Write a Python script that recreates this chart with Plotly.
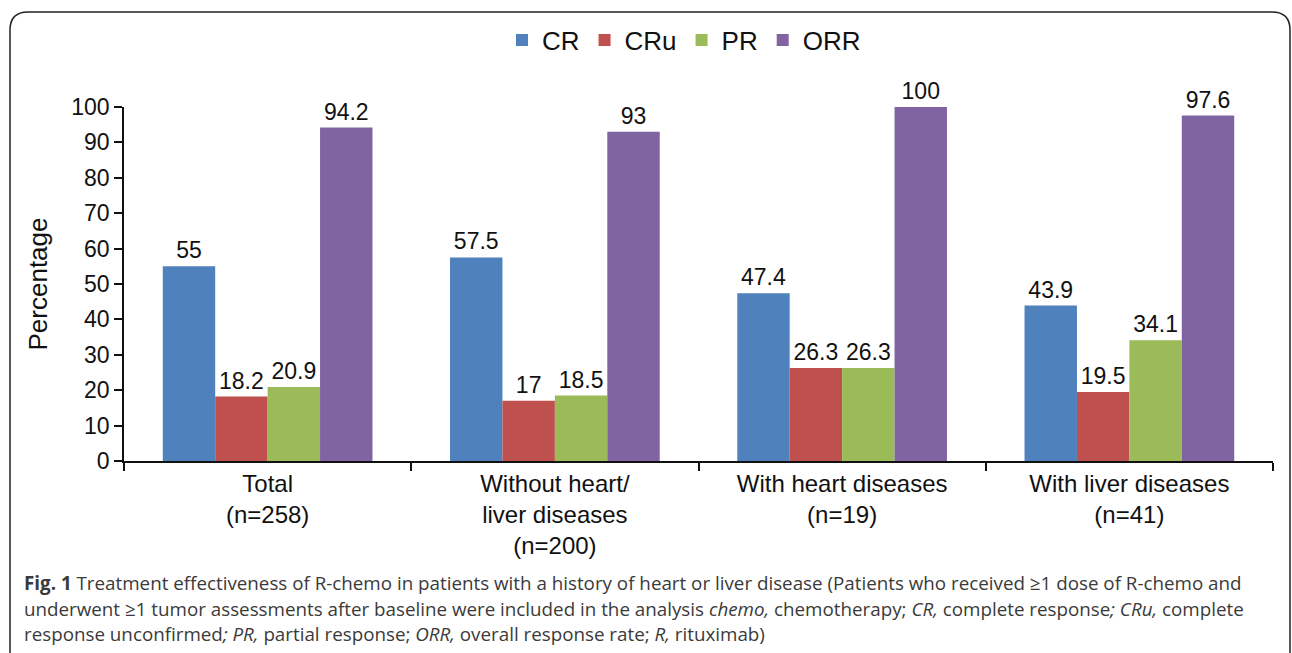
import plotly.graph_objects as go

categories = ["Total<br>(n=258)", "Without heart/<br>liver diseases<br>(n=200)",
              "With heart diseases<br>(n=19)", "With liver diseases<br>(n=41)"]
series_names = ["CR", "CRu", "PR", "ORR"]
cr = [55, 57.5, 47.4, 43.9]
cru = [18.2, 17, 26.3, 19.5]
pr = [20.9, 18.5, 26.3, 34.1]
orr = [94.2, 93, 100, 97.6]
colors = ["#4F81BD", "#C0504D", "#9BBB59", "#8064A2"]
y_ticks = list(range(0, 101, 10))

W, H = 1292, 653
L, R, T, B = 124, 19, 107, 192
pw, ph = W - L - R, H - T - B

def px(x):
    return (x - L) / pw

def py(y):
    return (H - B - y) / ph

font = "Liberation Sans, Arial"
fig = go.Figure()
for name, vals, col in zip(series_names, [cr, cru, pr, orr], colors):
    fig.add_trace(go.Bar(
        name=name, x=categories, y=vals, marker_color=col, marker_line_width=0,
        text=[f"{v:g}" for v in vals], textposition="outside", cliponaxis=False,
        textfont=dict(size=23, color="#111", family=font),
    ))

fig.update_layout(
    width=W, height=H, barmode="group", bargap=0.27, bargroupgap=0,
    margin=dict(l=L, r=R, t=T, b=B, pad=0),
    paper_bgcolor="white", plot_bgcolor="white",
    font=dict(family=font, color="#111"),
    legend=dict(orientation="h", x=px(684), xanchor="center", y=py(40), yanchor="middle",
                font=dict(size=26, family=font, color="#111"), itemwidth=30,
                traceorder="normal", tracegroupgap=0),
    xaxis=dict(showline=True, linecolor="#111", linewidth=1.5, ticks="outside",
               tickson="boundaries", ticklen=8, tickcolor="#111", tickwidth=1.5,
               tickfont=dict(size=24, family=font, color="#111"), showgrid=False),
    yaxis=dict(range=[0, 100], tickvals=y_ticks, showline=True, linecolor="#111", linewidth=1.5,
               ticks="outside", ticklen=8, tickcolor="#111", tickwidth=1.5,
               tickfont=dict(size=23, family=font, color="#111"), showgrid=False, zeroline=False,
               title=dict(text="Percentage", font=dict(size=26, family=font, color="#111"), standoff=16)),
)

# rounded border
x0, y0, x1, y1, r = 10, 12, 1290, 700, 18
path = (f"M {px(x0)},{py(y1)} L {px(x0)},{py(y0 + r)} "
        f"Q {px(x0)},{py(y0)} {px(x0 + r)},{py(y0)} "
        f"L {px(x1 - r)},{py(y0)} Q {px(x1)},{py(y0)} {px(x1)},{py(y0 + r)} "
        f"L {px(x1)},{py(y1)}")
fig.add_shape(type="path", path=path, xref="paper", yref="paper",
              line=dict(color="#222", width=1.5))

cap_font = dict(size=18.8, family="Open Sans", color="#3a3a3a")
lines = [
    "<b>Fig. 1</b> Treatment effectiveness of R-chemo in patients with a history of heart or liver disease (Patients who received ≥1 dose of R-chemo and",
    "underwent ≥1 tumor assessments after baseline were included in the analysis <i>chemo,</i> chemotherapy; <i>CR,</i> complete response<i>; CRu,</i> complete",
    "response unconfirmed<i>; PR,</i> partial response; <i>ORR,</i> overall response rate; <i>R,</i> rituximab)",
]
for t, yy in zip(lines, [583, 609, 634]):
    fig.add_annotation(text=t, xref="paper", yref="paper", x=px(22), y=py(yy),
                       xanchor="left", yanchor="middle", showarrow=False, font=cap_font)

fig.write_html("out.html", config={"displayModeBar": False},
               post_script="document.body.style.margin='0';document.body.style.overflow='hidden';")
